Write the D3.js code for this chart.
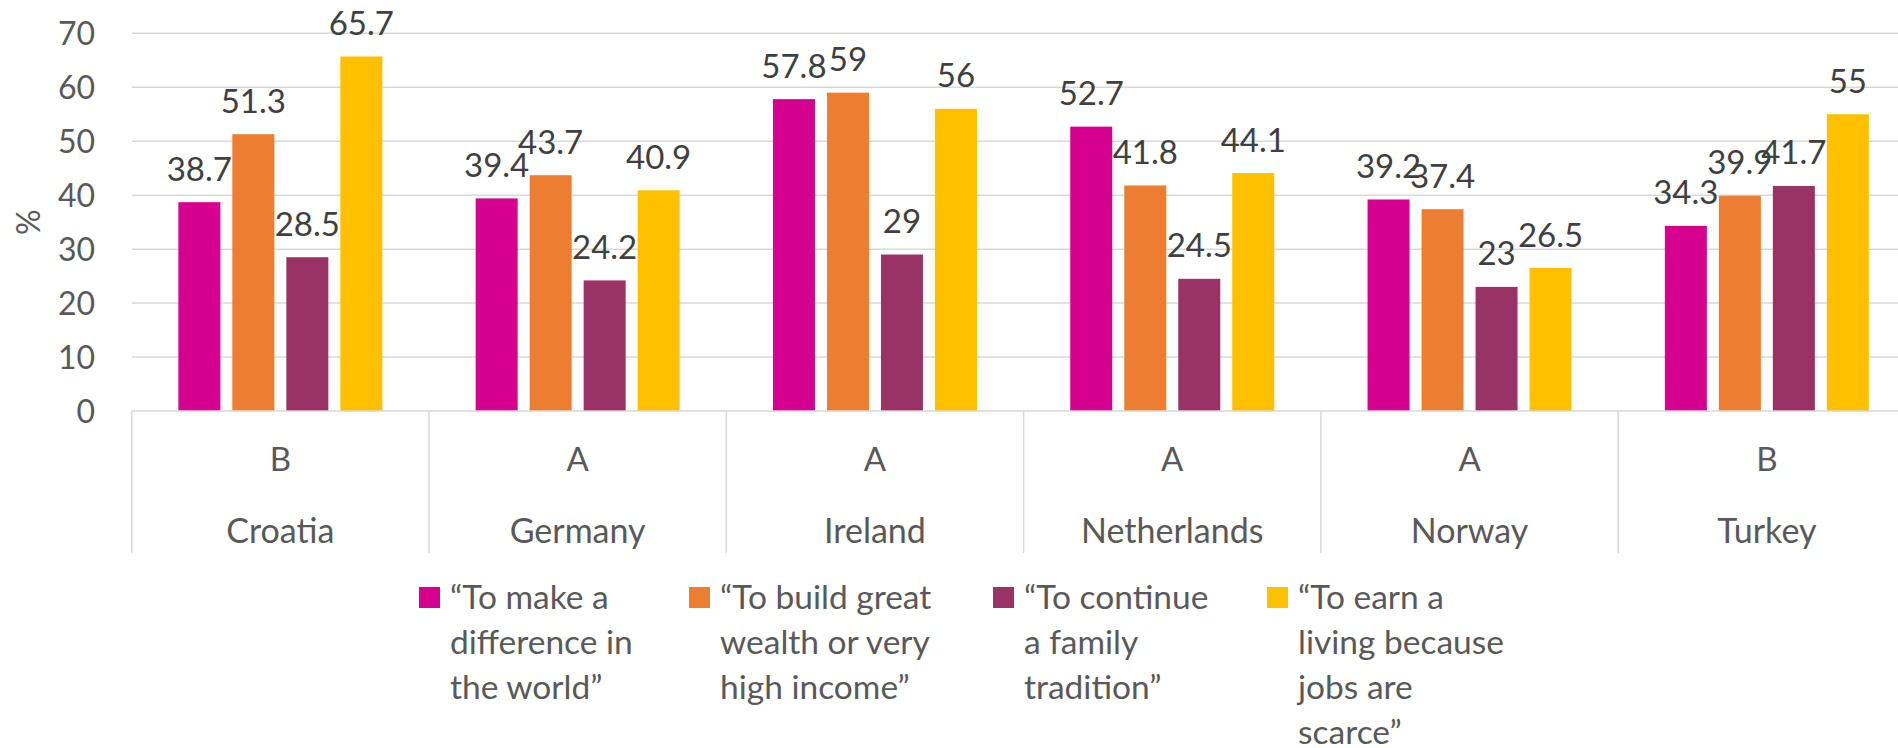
<!DOCTYPE html>
<html>
<head>
<meta charset="utf-8">
<script src="https://cdn.jsdelivr.net/npm/d3@7"></script>
<style>
  html, body { margin: 0; padding: 0; background: #fff; }
  svg { display: block; font-family: Lato, "Open Sans", sans-serif; }
</style>
</head>
<body>
<svg id="chart" width="1898" height="748"></svg>
<script>
// ---- data ----
const countries = ["Croatia", "Germany", "Ireland", "Netherlands", "Norway", "Turkey"];
const groups = ["B", "A", "A", "A", "A", "B"];
const seriesNames = [
  "“To make a difference in the world”",
  "“To build great wealth or very high income”",
  "“To continue a family tradition”",
  "“To earn a living because jobs are scarce”"
];
const legendLines = [
  ["“To make a", "difference in", "the world”"],
  ["“To build great", "wealth or very", "high income”"],
  ["“To continue", "a family", "tradition”"],
  ["“To earn a", "living because", "jobs are", "scarce”"]
];
const makeDifference = [38.7, 39.4, 57.8, 52.7, 39.2, 34.3];
const buildWealth   = [51.3, 43.7, 59, 41.8, 37.4, 39.9];
const familyTrad    = [28.5, 24.2, 29, 24.5, 23, 41.7];
const earnLiving    = [65.7, 40.9, 56, 44.1, 26.5, 55];
const yTicks = [0, 10, 20, 30, 40, 50, 60, 70];
const colors = ["#D6008F", "#ED7D31", "#993366", "#FFC000"];

const seriesValues = [makeDifference, buildWealth, familyTrad, earnLiving];

// ---- layout ----
const svg = d3.select("#chart");
const plotLeft = 131.7, plotRight = 1915.5;
const y0 = 411, yTop = 33.3;

const x0 = d3.scaleBand().domain(countries).range([plotLeft, plotRight]).padding(0);
const x1 = d3.scaleBand().domain(d3.range(4)).range([0, x0.bandwidth()])
  .paddingInner(12 / 54).paddingOuter(0.864);
const y = d3.scaleLinear().domain([0, 70]).range([y0, yTop]);

const grid = "#D9D9D9";
const txt = "#595959";

// gridlines
svg.append("g").selectAll("line").data(yTicks.filter(d => d > 0)).join("line")
  .attr("x1", plotLeft).attr("x2", 1898)
  .attr("y1", d => y(d)).attr("y2", d => y(d))
  .attr("stroke", grid).attr("stroke-width", 1.5);

// y axis labels
const yAxis = d3.axisLeft(y).tickValues(yTicks).tickSize(0).tickPadding(0);
const yg = svg.append("g").attr("transform", `translate(95,0)`).call(yAxis);
yg.select(".domain").remove();
yg.selectAll("text").attr("fill", txt).attr("font-size", 32)
  .attr("font-family", "Lato, sans-serif").attr("dy", "0.36em");

// y title
svg.append("text").attr("transform", `translate(40,${(y0 + yTop) / 2}) rotate(-90)`)
  .attr("text-anchor", "middle").attr("fill", txt).attr("font-size", 32).text("%");

// bars
const gGroups = svg.append("g").selectAll("g").data(countries).join("g")
  .attr("transform", d => `translate(${x0(d)},0)`);

gGroups.selectAll("rect").data((c, i) => seriesValues.map((s, k) => ({k, v: s[i]}))).join("rect")
  .attr("x", d => x1(d.k)).attr("width", x1.bandwidth())
  .attr("y", d => y(d.v)).attr("height", d => y0 - y(d.v))
  .attr("fill", d => colors[d.k]);

gGroups.selectAll("text.val").data((c, i) => seriesValues.map((s, k) => ({k, v: s[i]}))).join("text")
  .attr("class", "val")
  .attr("x", d => x1(d.k) + x1.bandwidth() / 2)
  .attr("y", d => y(d.v) - 21.5)
  .attr("text-anchor", "middle").attr("fill", "#404040").attr("font-size", 33)
  .text(d => d.v);

// x axis baseline + separators
svg.append("line").attr("x1", plotLeft).attr("x2", 1898).attr("y1", y0).attr("y2", y0)
  .attr("stroke", grid).attr("stroke-width", 1.5);
const bounds = countries.map(c => x0(c)).concat([plotRight]);
svg.append("g").selectAll("line").data(bounds).join("line")
  .attr("x1", d => d).attr("x2", d => d).attr("y1", y0).attr("y2", 553)
  .attr("stroke", grid).attr("stroke-width", 1.5);

// category labels
svg.append("g").selectAll("text").data(groups).join("text")
  .attr("x", (d, i) => x0(countries[i]) + x0.bandwidth() / 2).attr("y", 470.7)
  .attr("text-anchor", "middle").attr("fill", txt).attr("font-size", 33).text(d => d);
svg.append("g").selectAll("text").data(countries).join("text")
  .attr("x", d => x0(d) + x0.bandwidth() / 2).attr("y", 542.7)
  .attr("text-anchor", "middle").attr("fill", txt).attr("font-size", 34).text(d => d);

// legend
const legendX = [419, 689, 993, 1267];
const lg = svg.append("g").selectAll("g").data(seriesNames).join("g")
  .attr("transform", (d, i) => `translate(${legendX[i]},0)`);
lg.append("rect").attr("x", 0).attr("y", 587).attr("width", 21).attr("height", 21)
  .attr("fill", (d, i) => colors[i]);
lg.each(function(d, i) {
  const t = d3.select(this).append("text").attr("fill", txt).attr("font-size", 33.5);
  t.selectAll("tspan").data(legendLines[i]).join("tspan")
    .attr("x", 31).attr("y", (l, j) => 609 + j * 45).text(l => l);
});
</script>
</body>
</html>
